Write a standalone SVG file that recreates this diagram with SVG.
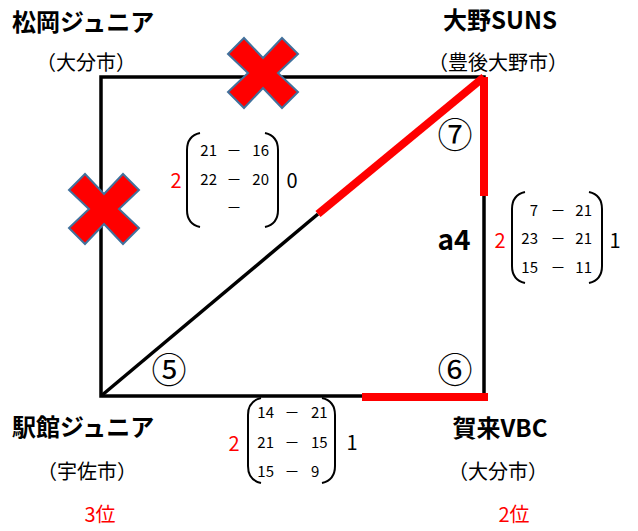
<svg xmlns="http://www.w3.org/2000/svg" width="638" height="531" viewBox="0 0 638 531">
<defs>
<style>
text{font-family:"Noto Sans CJK JP","Liberation Sans",sans-serif;fill:#000}
.title{font-size:24px;font-weight:bold}
.sub{font-size:20px}
.red{fill:#FF0000}
.num{font-size:15px}
.big{font-size:20px}
.circ{font-size:35px}
.blk{stroke:#000;stroke-width:3.5;fill:none}
.rl{stroke:#FF0000;stroke-width:8;fill:none}
.par{stroke:#000;stroke-width:2;fill:none}
.x{fill:#FF0000;stroke:#41719C;stroke-width:2}
</style>
<polygon id="cross" class="x" points="0,-15 19,-35 35,-19 15,0 35,19 19,35 0,15 -19,35 -35,19 -15,0 -35,-19 -19,-35"/>
</defs>
<rect width="638" height="531" fill="#fff"/>
<g id="connectors">
<rect class="blk" x="101" y="77" width="383" height="319"/>
<line class="blk" x1="101" y1="396" x2="318" y2="214" stroke-width="3"/>
<line class="rl" x1="318" y1="214" x2="484" y2="77"/>
<line class="rl" x1="484" y1="77" x2="484" y2="196"/>
<line class="rl" x1="362" y1="397" x2="488" y2="397"/>
</g>
<g id="crosses">
<use href="#cross" x="263" y="73"/>
<use href="#cross" x="104" y="209"/>
</g>
<g id="node-matsuoka">
<text class="title" x="12" y="31">松岡ジュニア</text>
<text class="sub" x="36" y="70">（大分市）</text>
</g>
<g id="node-ono">
<text class="title" x="500" y="29" text-anchor="middle">大野SUNS</text>
<text class="sub" x="498" y="70" text-anchor="middle">（豊後大野市）</text>
</g>
<g id="node-ekikan">
<text class="title" x="12" y="436">駅館ジュニア</text>
<text class="sub" x="37" y="479">（宇佐市）</text>
<text class="big red" x="100" y="522" text-anchor="middle">3位</text>
</g>
<g id="node-kaku">
<text class="title" x="500" y="437" text-anchor="middle">賀来VBC</text>
<text class="sub" x="498" y="479" text-anchor="middle">（大分市）</text>
<text class="big red" x="514" y="522" text-anchor="middle">2位</text>
</g>
<g id="match-labels">
<text class="circ" x="455" y="148" text-anchor="middle">⑦</text>
<text class="circ" x="169" y="383" text-anchor="middle">⑤</text>
<text class="circ" x="455" y="383" text-anchor="middle">⑥</text>
<text x="454" y="250" text-anchor="middle" font-family="Liberation Sans,sans-serif" font-weight="bold" font-size="28">a4</text>
</g>
<g id="score-top-left">
<text class="big red" x="176" y="188" text-anchor="middle">2</text>
<path class="par" d="M200,133 Q187,136 187,150 L187,210 Q187,224 200,227"/>
<text class="num" x="217" y="156" text-anchor="end">21</text>
<text class="num" x="234" y="156" text-anchor="middle">－</text>
<text class="num" x="269" y="156" text-anchor="end">16</text>
<text class="num" x="217" y="185" text-anchor="end">22</text>
<text class="num" x="234" y="185" text-anchor="middle">－</text>
<text class="num" x="269" y="185" text-anchor="end">20</text>
<text class="num" x="234" y="213" text-anchor="middle">－</text>
<path class="par" d="M265,133 Q278,136 278,150 L278,210 Q278,224 265,227"/>
<text class="big" x="292" y="188" text-anchor="middle">0</text>
</g>
<g id="score-right">
<text class="big red" x="500" y="248" text-anchor="middle">2</text>
<path class="par" d="M525,192 Q512,195 512,209 L512,266 Q512,280 525,283"/>
<text class="num" x="538" y="216" text-anchor="end">7</text>
<text class="num" x="558" y="216" text-anchor="middle">－</text>
<text class="num" x="592" y="216" text-anchor="end">21</text>
<text class="num" x="538" y="244" text-anchor="end">23</text>
<text class="num" x="558" y="244" text-anchor="middle">－</text>
<text class="num" x="592" y="244" text-anchor="end">21</text>
<text class="num" x="538" y="273" text-anchor="end">15</text>
<text class="num" x="558" y="273" text-anchor="middle">－</text>
<text class="num" x="592" y="273" text-anchor="end">11</text>
<path class="par" d="M589,192 Q602,195 602,209 L602,266 Q602,280 589,283"/>
<text class="big" x="615" y="248" text-anchor="middle">1</text>
</g>
<g id="score-bottom">
<text class="big red" x="234" y="451" text-anchor="middle">2</text>
<path class="par" d="M261,398 Q248,401 248,415 L248,466 Q248,480 261,483"/>
<text class="num" x="274" y="418" text-anchor="end">14</text>
<text class="num" x="292" y="418" text-anchor="middle">－</text>
<text class="num" x="311" y="418">21</text>
<text class="num" x="274" y="448" text-anchor="end">21</text>
<text class="num" x="292" y="448" text-anchor="middle">－</text>
<text class="num" x="311" y="448">15</text>
<text class="num" x="274" y="477" text-anchor="end">15</text>
<text class="num" x="292" y="477" text-anchor="middle">－</text>
<text class="num" x="311" y="477">9</text>
<path class="par" d="M322,398 Q335,401 335,415 L335,466 Q335,480 322,483"/>
<text class="big" x="352" y="450" text-anchor="middle">1</text>
</g>
</svg>
